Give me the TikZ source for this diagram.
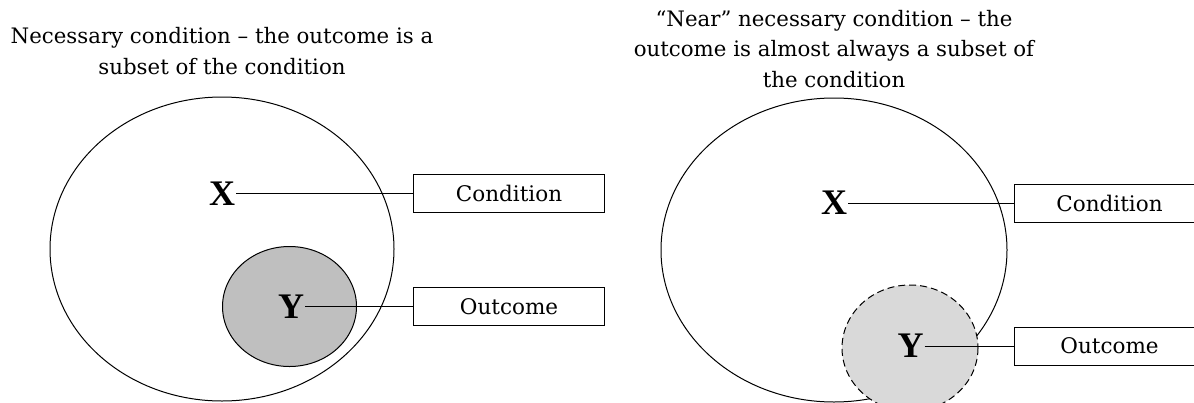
\documentclass[tikz,border=0pt]{standalone}
\usepackage{fontspec}
\setmainfont{DejaVu Serif}
\newfontfamily\varfont{Liberation Serif}
\begin{document}
\begin{tikzpicture}[x=1pt,y=-1pt,
  title/.style={align=center,font=\fontsize{21.3}{30.5}\selectfont,inner sep=0pt},
  var/.style={font=\fontsize{36}{36}\varfont\bfseries,inner sep=1pt},
  labelbox/.style={draw,line width=1pt,minimum height=38pt,anchor=west,font=\fontsize{21.5}{26}\selectfont,inner sep=0pt},
  conn/.style={line width=1pt},
  outline/.style={line width=1pt}]
\useasboundingbox (0,0) rectangle (1194,402);
\fill[white] (0,0) rectangle (1194,402);
% Left panel
\node[title] (t1) at (222,51) {Necessary condition -- the outcome is a\\subset of the condition};
\draw[outline] (222,249) ellipse [x radius=172, y radius=152];
\filldraw[outline,fill=black!25] (289.5,306.5) ellipse [x radius=67, y radius=60];
\node[var] (x1) at (222,193.5) {X};
\node[var] (y1) at (291,306.5) {Y};
\node[labelbox,minimum width=191pt] (b1) at (413,193.5) {Condition};
\node[labelbox,minimum width=191pt] (b2) at (413,306.5) {Outcome};
\draw[conn] (x1.east) -- (b1.west);
\draw[conn] (y1.east) -- (b2.west);
% Right panel
\node[title] (t2) at (834,49) {``Near'' necessary condition -- the\\outcome is almost always a subset of\\the condition};
\draw[outline] (834,250) ellipse [x radius=173, y radius=152];
\filldraw[outline,fill=black!15,dash pattern=on 7pt off 4pt] (910,348) ellipse [x radius=68, y radius=63];
\node[var] (x2) at (834,203) {X};
\node[var] (y2) at (910.5,346) {Y};
\node[labelbox,minimum width=190pt] (b3) at (1014,203) {Condition};
\node[labelbox,minimum width=190pt] (b4) at (1014,346) {Outcome};
\draw[conn] (x2.east) -- (b3.west);
\draw[conn] (y2.east) -- (b4.west);
\end{tikzpicture}
\end{document}
